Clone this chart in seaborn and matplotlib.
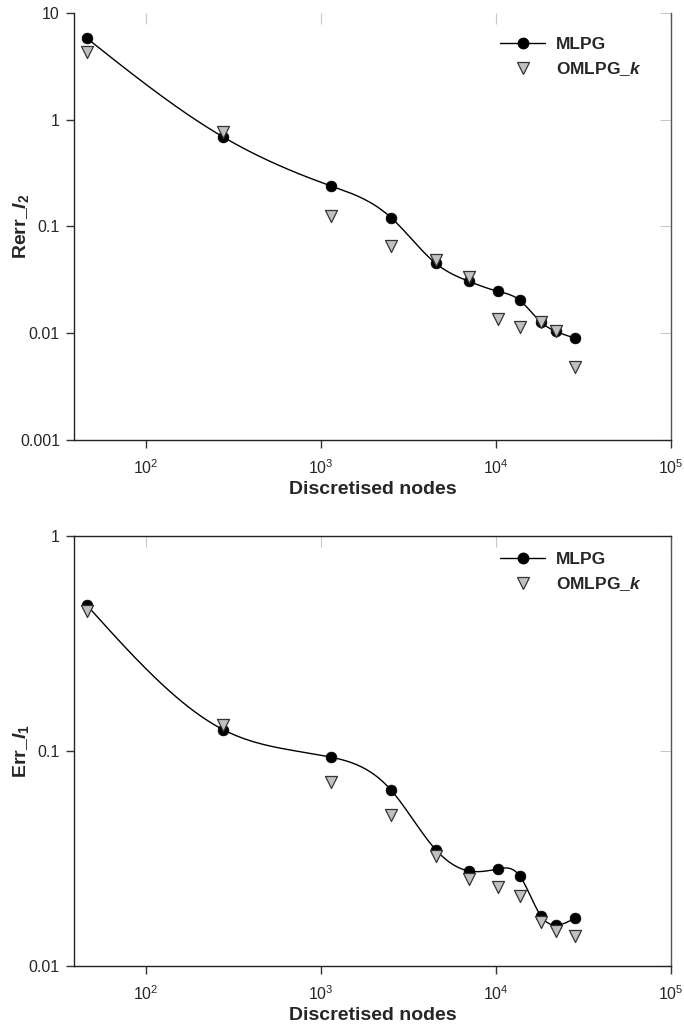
import numpy as np
import pandas as pd
import seaborn as sns
import matplotlib.pyplot as plt
from matplotlib.lines import Line2D
from matplotlib.ticker import FixedLocator, FixedFormatter, NullLocator

# data
nodes = [46, 276, 1140, 2515, 4540, 7010, 10260, 13700, 18070, 22020, 28250]
rerr_mlpg = [5.8, 0.69, 0.24, 0.121, 0.045, 0.0306, 0.0247, 0.0203, 0.0127, 0.0104, 0.0090]
rerr_omlpg = [4.3, 0.77, 0.124, 0.065, 0.049, 0.0333, 0.0135, 0.0114, 0.0127, 0.0105, 0.0048]
err_mlpg = [0.478, 0.126, 0.0938, 0.0659, 0.0347, 0.0277, 0.0283, 0.0262, 0.0171, 0.0155, 0.0167]
err_omlpg = [0.448, 0.132, 0.0718, 0.0504, 0.0325, 0.0254, 0.0233, 0.0212, 0.0160, 0.01455, 0.0138]

top_yticks = [0.001, 0.01, 0.1, 1, 10]
top_ylabels = ['0.001', '0.01', '0.1', '1', '10']
bot_yticks = [0.01, 0.1, 1]
bot_ylabels = ['0.01', '0.1', '1']
xticks = [1e2, 1e3, 1e4, 1e5]

sns.set_style('ticks')
plt.rcParams['font.family'] = ['Liberation Sans', 'DejaVu Sans']
plt.rcParams['mathtext.fontset'] = 'custom'
plt.rcParams['mathtext.rm'] = 'Liberation Sans:bold'
plt.rcParams['mathtext.it'] = 'Liberation Sans:bold:italic'
plt.rcParams['mathtext.bf'] = 'Liberation Sans:bold'


def natural_spline(x, y, n=40):
    # smooth connecting curve (drawn in log-log space, like the original plotting tool)
    x = np.asarray(x, float)
    y = np.asarray(y, float)
    m = len(x)
    h = np.diff(x)
    A = np.zeros((m, m))
    r = np.zeros(m)
    A[0, 0] = A[-1, -1] = 1
    for i in range(1, m - 1):
        A[i, i - 1] = h[i - 1]
        A[i, i] = 2 * (h[i - 1] + h[i])
        A[i, i + 1] = h[i]
        r[i] = 6 * ((y[i + 1] - y[i]) / h[i] - (y[i] - y[i - 1]) / h[i - 1])
    M = np.linalg.solve(A, r)
    xs, ys = [], []
    for i in range(m - 1):
        t = np.linspace(x[i], x[i + 1], n, endpoint=(i == m - 2))
        a = x[i + 1] - t
        b = t - x[i]
        s = (M[i] * a ** 3 + M[i + 1] * b ** 3) / (6 * h[i]) \
            + (y[i] / h[i] - M[i] * h[i] / 6) * a + (y[i + 1] / h[i] - M[i + 1] * h[i] / 6) * b
        xs.append(t)
        ys.append(s)
    return 10 ** np.concatenate(xs), 10 ** np.concatenate(ys)


def draw(ax, mlpg, omlpg, yticks, ylabels, ylim, ylabel, top_spine, leg_y):
    sx, sy = natural_spline(np.log10(nodes), np.log10(mlpg))
    sns.lineplot(x=sx, y=sy, ax=ax, color='black', lw=1.0, sort=False, estimator=None)
    df = pd.DataFrame({'nodes': nodes, 'mlpg': mlpg, 'omlpg': omlpg})
    sns.scatterplot(data=df, x='nodes', y='mlpg', ax=ax, marker='o', s=60,
                    color='black', edgecolor='black', linewidth=0.5, zorder=3)
    sns.scatterplot(data=df, x='nodes', y='omlpg', ax=ax, marker='v', s=75,
                    color='#c0c0c0', edgecolor='#333333', linewidth=0.9, zorder=4)
    ax.set_xscale('log')
    ax.set_yscale('log')
    ax.set_xlim(38.8, 1e5)
    ax.set_ylim(*ylim)
    ax.xaxis.set_major_locator(FixedLocator(xticks))
    ax.xaxis.set_minor_locator(NullLocator())
    ax.yaxis.set_major_locator(FixedLocator(yticks))
    ax.yaxis.set_major_formatter(FixedFormatter(ylabels))
    ax.yaxis.set_minor_locator(NullLocator())
    ax.tick_params(axis='both', which='major', direction='out', length=6, width=1,
                   color='#333333', labelsize=11.5, pad=4)
    ax.tick_params(axis='x', pad=7)
    # grey inward ticks on the top/right
    sec_x = ax.secondary_xaxis('top')
    sec_x.xaxis.set_major_locator(FixedLocator(xticks))
    sec_x.xaxis.set_minor_locator(NullLocator())
    sec_x.tick_params(direction='in', length=8, color='#c8c8c8', labeltop=False)
    sec_x.spines['top'].set_visible(False)
    sec_y = ax.secondary_yaxis('right')
    sec_y.yaxis.set_major_locator(FixedLocator(yticks))
    sec_y.yaxis.set_minor_locator(NullLocator())
    sec_y.tick_params(direction='in', length=8, color='#c8c8c8', labelright=False)
    sec_y.spines['right'].set_visible(False)
    for side in ['left', 'bottom', 'right', 'top']:
        ax.spines[side].set_color('#222222')
        ax.spines[side].set_linewidth(1.0)
    ax.spines['right'].set_color('#555555')
    ax.spines['top'].set_visible(top_spine)
    ax.set_xlabel('Discretised nodes', fontsize=14, fontweight='bold', labelpad=3)
    ax.set_ylabel(ylabel, fontsize=14, fontweight='bold')
    ax.yaxis.set_label_coords(-0.072, 0.5)
    handles = [Line2D([], [], color='black', lw=1.0, marker='o', markersize=7.5),
               Line2D([], [], color='none', marker='v', markersize=8,
                      markerfacecolor='#c0c0c0', markeredgecolor='#333333', markeredgewidth=0.9)]
    ax.legend(handles, ['MLPG', r'OMLPG_$k$'], loc='upper left',
              bbox_to_anchor=(0.702, leg_y), frameon=False, handlelength=2.6,
              handletextpad=0.6, labelspacing=0.45, borderaxespad=0,
              prop={'weight': 'bold', 'size': 12.5})


fig = plt.figure(figsize=(6.84, 10.28), dpi=100)
ax1 = fig.add_axes([0.108, 0.572, 0.873, 0.4154])
ax2 = fig.add_axes([0.108, 0.0603, 0.873, 0.418])

draw(ax1, rerr_mlpg, rerr_omlpg, top_yticks, top_ylabels, (0.001, 10), r'Rerr_$l_2$', False, 0.96)
draw(ax2, err_mlpg, err_omlpg, bot_yticks, bot_ylabels, (0.01, 1), r'Err_$l_1$', True, 0.98)

fig.savefig('out.png', dpi=100, facecolor='white')
